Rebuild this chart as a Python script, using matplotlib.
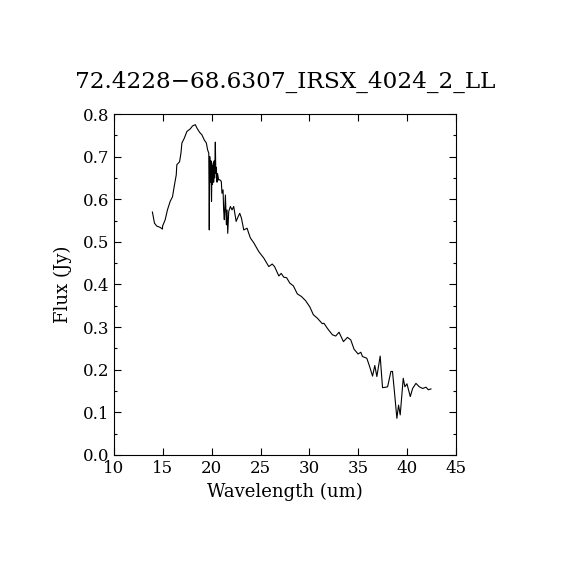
import numpy as np
import matplotlib.pyplot as plt
from matplotlib.ticker import MultipleLocator

# spectrum
wavelength = [13.93, 14.14, 14.38, 14.72, 14.96, 14.97, 15.24, 15.47, 15.75, 15.99,
              16.16, 16.37, 16.43, 16.71, 16.85, 16.95, 17.19, 17.46, 17.80, 18.04,
              18.32, 18.49, 18.76, 19.00, 19.24, 19.45, 19.58, 19.70, 19.75, 19.80,
              19.86, 19.93, 19.98, 20.03, 20.08, 20.14, 20.20, 20.25, 20.30, 20.37,
              20.42, 20.47, 20.54, 20.60, 20.71, 20.81, 20.98, 21.05, 21.16, 21.22,
              21.29, 21.40, 21.50, 21.57, 21.64, 21.74, 21.91, 22.08, 22.25, 22.50,
              22.70, 22.87, 23.04, 23.28, 23.62, 23.79, 23.96, 24.30, 24.82, 25.33,
              25.84, 26.19, 26.43, 26.87, 27.11, 27.38, 27.66, 28.00, 28.35, 28.76,
              29.17, 29.61, 30.05, 30.40, 30.81, 31.32, 31.49, 31.84, 32.35, 32.69,
              33.03, 33.48, 33.89, 34.23, 34.57, 34.98, 35.26, 35.43, 35.87, 36.11,
              36.46, 36.69, 36.90, 37.24, 37.48, 37.82, 38.00, 38.34, 38.50, 38.68,
              38.95, 39.12, 39.29, 39.60, 39.77, 39.98, 40.32, 40.56, 40.90, 41.24,
              41.59, 41.93, 42.17, 42.44]
flux = [0.570, 0.544, 0.537, 0.534, 0.530, 0.537, 0.552, 0.575, 0.595, 0.606,
        0.630, 0.657, 0.681, 0.688, 0.708, 0.732, 0.743, 0.759, 0.765, 0.772,
        0.775, 0.767, 0.757, 0.751, 0.739, 0.732, 0.716, 0.708, 0.528, 0.700,
        0.640, 0.690, 0.595, 0.680, 0.635, 0.685, 0.640, 0.690, 0.650, 0.734,
        0.660, 0.675, 0.640, 0.660, 0.645, 0.646, 0.642, 0.614, 0.622, 0.575,
        0.552, 0.610, 0.540, 0.575, 0.520, 0.571, 0.583, 0.575, 0.583, 0.548,
        0.559, 0.567, 0.556, 0.528, 0.532, 0.520, 0.509, 0.498, 0.477, 0.462,
        0.442, 0.448, 0.442, 0.420, 0.426, 0.417, 0.416, 0.403, 0.397, 0.378,
        0.372, 0.362, 0.347, 0.329, 0.321, 0.308, 0.309, 0.297, 0.282, 0.279,
        0.288, 0.266, 0.276, 0.270, 0.248, 0.237, 0.241, 0.231, 0.227, 0.211,
        0.185, 0.210, 0.184, 0.232, 0.158, 0.159, 0.160, 0.196, 0.196, 0.153,
        0.086, 0.117, 0.094, 0.180, 0.160, 0.167, 0.137, 0.156, 0.168, 0.160,
        0.156, 0.159, 0.153, 0.155]

title = "72.4228\u221268.6307_IRSX_4024_2_LL"

plt.rcParams['font.family'] = ['DejaVu Serif']

fig = plt.figure(figsize=(5.7, 5.7), dpi=100)
ax = fig.add_axes([0.2, 0.2018, 0.6, 0.5982])

ax.plot(wavelength, flux, color="black", linewidth=0.8)

ax.set_xlim(10, 45)
ax.set_ylim(0.0, 0.8)
ax.xaxis.set_major_locator(MultipleLocator(5))
ax.yaxis.set_major_locator(MultipleLocator(0.1))
ax.yaxis.set_minor_locator(MultipleLocator(0.05))
ax.yaxis.set_major_formatter(plt.FormatStrFormatter("%.1f"))
ax.tick_params(which="both", direction="in", top=True, right=True, labelsize=12, width=0.8)
ax.tick_params(which="major", length=5)
ax.tick_params(which="minor", length=2.5)
for s in ax.spines.values():
    s.set_linewidth(0.8)

ax.set_title(title, fontsize=16.7, pad=19)
ax.set_xlabel("Wavelength (um)", fontsize=13, labelpad=4)
ax.set_ylabel("Flux (Jy)", fontsize=13, labelpad=8)

fig.savefig("out.png", dpi=100)
